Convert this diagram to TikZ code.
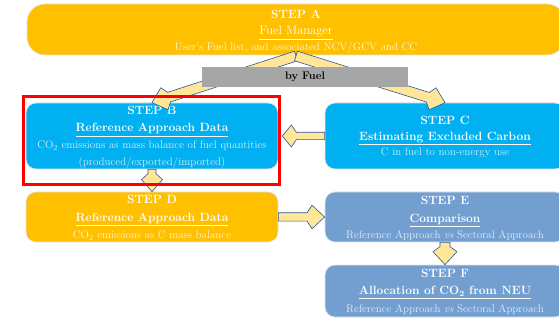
\documentclass[tikz,border=0pt]{standalone}
\usetikzlibrary{calc}
\definecolor{gold}{RGB}{255,192,0}
\definecolor{skyb}{RGB}{0,176,240}
\definecolor{steel}{RGB}{114,159,207}
\definecolor{arrfill}{RGB}{255,230,153}
\definecolor{arredge}{RGB}{47,85,151}
\definecolor{grayb}{RGB}{166,166,166}
\newcommand\fatarrow[6]{%
  \coordinate (fa-hb) at ($(#2)!#3!(#1)$);
  \coordinate (fa-sj) at ($(#2)!#4!(#1)$);
  \draw[fatarr] ($(#1)!#6!90:(#2)$) -- ($(fa-sj)!#6!90:(#2)$) -- ($(fa-hb)!#5!90:(#2)$) -- (#2)
     -- ($(fa-hb)!#5!-90:(#2)$) -- ($(fa-sj)!#6!-90:(#2)$) -- ($(#1)!#6!-90:(#2)$) -- cycle;
}
\newcommand\sthead[1]{{\fontsize{12}{14}\selectfont\bfseries #1}}
\newcommand\stsub[1]{{\fontsize{12}{14}\selectfont\bfseries\underline{#1}}}
\newcommand\stsubl[1]{{\fontsize{12.5}{14}\selectfont\underline{#1}}}
\tikzset{
  stepbox/.style={rectangle, rounded corners=10pt, draw=white!78!gray, line width=0.7pt,
     inner sep=0pt},
  txt/.style={text=white, align=center, inner sep=0pt, anchor=base},
  fatarr/.style={fill=arrfill, draw=arredge, line width=0.6pt, line join=miter},
}
\begin{document}
\begin{tikzpicture}[x=1pt,y=-1pt]
\useasboundingbox (0,0) rectangle (559,320);
\fill[white] (0,0) rectangle (559,320);
% boxes
\node[stepbox, fill=gold, rounded corners=18pt, minimum width=538pt, minimum height=51pt] (A) at (296,29.5) {};
\node[stepbox, fill=skyb, minimum width=252pt, minimum height=66pt] (B) at (152,136) {};
\node[stepbox, fill=skyb, minimum width=240pt, minimum height=66pt] (C) at (445,136) {};
\node[stepbox, fill=gold, minimum width=252pt, minimum height=50pt] (D) at (152,217) {};
\node[stepbox, fill=steel, minimum width=240pt, minimum height=50pt] (E) at (445,217) {};
\node[stepbox, fill=steel, minimum width=240pt, minimum height=52pt] (F) at (445,291) {};
% texts (anchor = baseline of the last line)
\node[txt, font=\fontsize{11}{16}\selectfont] (At) at (296,51)
  {\sthead{STEP A}\\ \stsubl{Fuel Manager}\\
   {\color{white!85!gold}User's Fuel list, and associated NCV/GCV and CC}};
\node[txt, font=\fontsize{11}{17}\selectfont] (Bt) at (152,166)
  {\sthead{STEP B}\\ \stsub{Reference Approach Data}\\
   {\color{white!80!skyb}CO\textsubscript{2} emissions as mass balance of fuel quantities}\\
   {\color{white!80!skyb}(produced/exported/imported)}};
\node[txt, font=\fontsize{11}{15.5}\selectfont] (Ct) at (445,156)
  {\sthead{STEP C}\\ \stsub{Estimating Excluded Carbon}\\
   {\color{white!80!skyb}C in fuel to non-energy use}};
\node[txt, font=\fontsize{11}{17.5}\selectfont] (Dt) at (152,239)
  {\sthead{STEP D}\\ \stsub{Reference Approach Data}\\
   {\color{white!85!gold}CO\textsubscript{2} emissions as C mass balance}};
\node[txt, font=\fontsize{11}{17}\selectfont] (Et) at (445,239)
  {\sthead{STEP E}\\ \stsub{Comparison}\\
   {\color{white!80!steel}Reference Approach \textit{vs} Sectoral Approach}};
\node[txt, font=\fontsize{11}{17.5}\selectfont] (Ft) at (445,312)
  {\sthead{STEP F}\\ \stsub{Allocation of CO\textsubscript{2} from NEU}\\
   {\color{white!80!steel}Reference Approach \textit{vs} Sectoral Approach}};
% arrows
\coordinate (Aout) at (296,56);
\coordinate (Ctip) at ($(B.east)+(4,0)$);
\fatarrow{Aout}{B.north}{13pt}{18pt}{11.5pt}{5pt}
\fatarrow{Aout}{C.north}{13pt}{18pt}{11.5pt}{5pt}
\node[fill=grayb, minimum width=206pt, minimum height=20pt, inner sep=0pt,
      font=\fontsize{11}{12}\selectfont\bfseries] (G) at (305,77) {by Fuel};
\fatarrow{C.west}{Ctip}{9pt}{14pt}{11pt}{3.7pt}
\fatarrow{B.south}{D.north}{12pt}{18pt}{10.5pt}{4pt}
\fatarrow{D.east}{E.west}{12.6pt}{17.6pt}{11.7pt}{4.2pt}
\fatarrow{E.south}{F.north}{13pt}{18pt}{12pt}{5pt}
% highlight
\draw[red, line width=3pt] (23.5,96.5) rectangle (279.5,184.5);
\end{tikzpicture}
\end{document}
